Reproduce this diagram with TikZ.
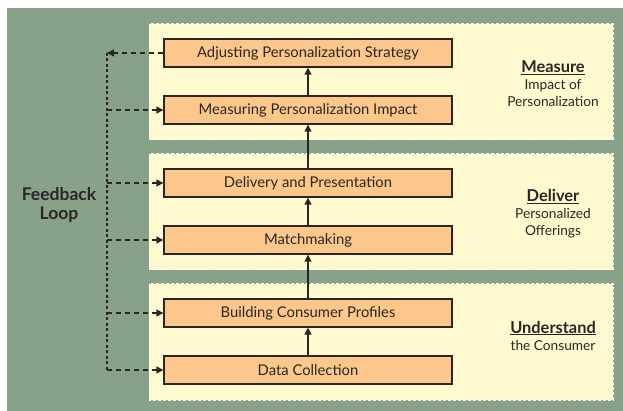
\documentclass[tikz,border=0pt]{standalone}
\usepackage{fontspec}
\setmainfont{Lato}
\usetikzlibrary{arrows.meta}
\definecolor{bggreen}{HTML}{88A28A}
\definecolor{panelfill}{HTML}{FFF9CF}
\definecolor{boxfill}{HTML}{FCC78A}
\definecolor{ink}{HTML}{2B2626}
\newcommand\myhead[1]{{\fontsize{16.4}{17}\selectfont\bfseries\underline{#1}}}
\begin{document}
\begin{tikzpicture}[x=1pt,y=-1pt,
  panel/.style={fill=panelfill,draw=white,dash pattern=on 3pt off 2pt,line width=1pt},
  stepbox/.style={draw=ink,fill=boxfill,line width=1.3pt,minimum width=288pt,minimum height=28pt,inner sep=0pt,font=\fontsize{14.8}{16}\selectfont,text=ink},
  flow/.style={draw=ink,line width=1.3pt,-{Triangle[length=7pt,width=7pt]}},
  fb/.style={draw=ink,line width=1.4pt,dash pattern=on 5pt off 4pt,-{Triangle[length=7pt,width=7pt]}},
  fbline/.style={draw=ink,line width=1.8pt,dash pattern=on 3pt off 2.5pt},
  lbl/.style={align=center,text=ink,font=\fontsize{13.7}{17}\selectfont}]
\useasboundingbox (0,0) rectangle (623,411);
\fill[white] (0,0) rectangle (623,411);
\fill[bggreen] (7,8) rectangle (623,411);
\path[panel] (149,24) rectangle (613,140);
\path[panel] (149,154) rectangle (613,270);
\path[panel] (149,284) rectangle (613,400);
\node[stepbox] (adj) at (308,53) {Adjusting Personalization Strategy};
\node[stepbox] (meas) at (308,110) {Measuring Personalization Impact};
\node[stepbox] (del) at (308,183) {Delivery and Presentation};
\node[stepbox] (match) at (308,240) {Matchmaking};
\node[stepbox] (build) at (308,313) {Building Consumer Profiles};
\node[stepbox] (data) at (308,370) {Data Collection};
\draw[flow] (data) -- (build);
\draw[flow] (build) -- (match);
\draw[flow] (match) -- (del);
\draw[flow] (del) -- (meas);
\draw[flow] (meas) -- (adj);
\coordinate (ftop) at (107,53);
\coordinate (fbot) at (107,370);
\draw[fbline] (ftop) -- (fbot);
\draw[fb] (adj.west) -- (ftop);
\draw[fb] (107,110) -- (meas.west);
\draw[fb] (107,183) -- (del.west);
\draw[fb] (107,240) -- (match.west);
\draw[fb] (107,313) -- (build.west);
\draw[fb] (fbot) -- (data.west);
\node[lbl,font=\fontsize{17.5}{19}\selectfont\bfseries] (fbl) at (59,205) {Feedback\\Loop};
\node[lbl] (m) at (553,84) {\myhead{Measure}\\Impact of\\Personalization};
\node[lbl] (d) at (553,214) {\myhead{Deliver}\\Personalized\\Offerings};
\node[lbl] (u) at (553,335.5) {\myhead{Understand}\\the Consumer};
\end{tikzpicture}
\end{document}
